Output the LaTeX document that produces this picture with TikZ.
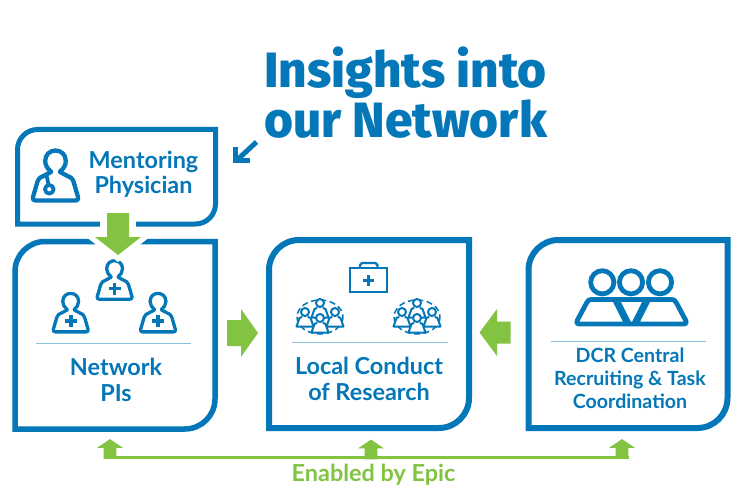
\documentclass[tikz,border=0pt]{standalone}
\usepackage{fontspec}
\setmainfont{Lato}
\newfontfamily\titlefont{Fira Sans ExtraBold}
\usetikzlibrary{calc}
\definecolor{brandblue}{HTML}{0477B8}
\definecolor{brandgreen}{HTML}{82C341}
\definecolor{rulecolor}{HTML}{8CBFDF}
\tikzset{
  x=1pt,y=-1pt,
  frame/.style={draw=brandblue,line width=#1,fill=white,line join=miter},
  frame/.default=6pt,
  icon/.style={draw=brandblue,line join=round,line cap=round},
  sep/.style={draw=rulecolor,line width=1pt},
  label/.style={text=brandblue,font=\bfseries\fontsize{23.4}{25.5}\selectfont,align=center,inner sep=0pt},
  bus/.style={draw=brandgreen,line width=3pt},
  headline/.style={text=brandblue,font=\titlefont\fontsize{49.6}{51}\selectfont,anchor=base west,inner sep=0pt},
}
% frame with two rounded corners (top left and bottom right)
\newcommand{\leafframe}[7]{%
  \coordinate (#1-nw) at (#2,#3);
  \coordinate (#1-se) at (#4,#5);
  \draw[frame=#7] ($(#1-nw)+(0,#6)$) .. controls ($(#1-nw)+(0,#6*0.45)$) and ($(#1-nw)+(#6*0.45,0)$) .. ($(#1-nw)+(#6,0)$)
     -- (#1-se |- #1-nw) -- ($(#1-se)-(0,#6)$)
     .. controls ($(#1-se)-(0,#6*0.45)$) and ($(#1-se)-(#6*0.45,0)$) .. ($(#1-se)-(#6,0)$)
     -- (#1-nw |- #1-se) -- cycle;
}
% person: balloon head and open trapezoid torso; args x, y, scale, stroke
\newcommand{\personoutline}[4]{%
  \begin{scope}[shift={(#1,#2)},scale=#3]
    \draw[icon,line width=#4] (-4.5,-1.5) .. controls (-8,-4) and (-10.3,-8) .. (-10.3,-12)
       .. controls (-10.3,-18.5) and (-5.5,-22.5) .. (0,-22.5)
       .. controls (5.5,-22.5) and (10.3,-18.5) .. (10.3,-12)
       .. controls (10.3,-8) and (8,-4) .. (4.5,-1.5);
    \draw[icon,line width=#4] (-4.5,-1) -- (-12,3) .. controls (-15,4) and (-16.5,5) .. (-18,8.5) -- (-22.5,24)
       .. controls (-23.3,26.5) and (-22,27.5) .. (-20,27.5)
       -- (20,27.5) .. controls (22,27.5) and (23.3,26.5) .. (22.5,24) -- (18,8.5)
       .. controls (16.5,5) and (15,4) .. (12,3) -- (4.5,-1);
  \end{scope}
}
% medical person: outline with a plus on the chest
\newcommand{\medic}[2]{%
  \personoutline{#1}{#2}{0.77}{3.3pt}
  \fill[brandblue] ($(#1,#2)+(-1.8,4.5)$) rectangle ++(3.6,12);
  \fill[brandblue] ($(#1,#2)+(-6,8.7)$) rectangle ++(12,3.6);
}
% small person used in the research cluster
\newcommand{\tinyperson}[2]{%
  \begin{scope}[shift={(#1,#2)}]
    \draw[icon,line width=2pt,fill=white] (-3.2,-2) -- (-5.5,-1) -- (-8.5,7.5) -- (8.5,7.5) -- (5.5,-1) -- (3.2,-2);
    \draw[icon,line width=2pt,fill=white] (0,-7) circle[radius=4];
  \end{scope}
}
\newcommand{\cluster}[2]{%
  \begin{scope}[shift={(#1,#2)}]
    \draw[draw=brandblue,line width=1.5pt,dash pattern=on 6pt off 3.5pt] (0,1) ellipse[x radius=23,y radius=17];
    \tinyperson{0}{-6}
    \tinyperson{-15}{3}
    \tinyperson{15}{3}
    \tinyperson{0}{9}
  \end{scope}
}
% green block arrow placed at a named point: args name, x, y, rotation, length, head length, shaft width, head width
\newcommand{\blockarrow}[8]{%
  \coordinate (#1) at (#2,#3);
  \fill[brandgreen,rotate around={#4:(#1)}] ($(#1)+(-#5/2,-#7/2)$) -- ($(#1)+(#5/2-#6,-#7/2)$) -- ($(#1)+(#5/2-#6,-#8/2)$)
     -- ($(#1)+(#5/2,0)$) -- ($(#1)+(#5/2-#6,#8/2)$) -- ($(#1)+(#5/2-#6,#7/2)$) -- ($(#1)+(-#5/2,#7/2)$) -- cycle;
}

\begin{document}
\begin{tikzpicture}
\useasboundingbox (0,0) rectangle (742,492);
\fill[white] (0,0) rectangle (742,492);

% title
\node[headline] (titleone) at (264,88) {Insights into};
\node[headline] (titletwo) at (264,138) {our Network};
\coordinate (pointerstart) at (256.5,142);
\coordinate (pointerend) at (236,161);
\draw[draw=brandblue,line width=5pt] (pointerstart) -- (pointerend);
\draw[draw=brandblue,line width=5pt,line join=miter] (235.5,147) -- (235.5,160.5) -- (250,160.5);

% panels
\leafframe{mentor}{17.5}{129.5}{215.5}{224}{20}{5pt}
\leafframe{pis}{15}{241.5}{215}{429}{30}{5.5pt}
\leafframe{local}{269}{240}{469}{428}{30}{6pt}
\leafframe{dcr}{528.5}{240}{727.5}{428}{30}{6pt}

% mentoring physician
\personoutline{55.5}{173}{1}{4.3pt}
\draw[icon,line width=3.8pt] (49.3,189.3) circle[radius=4.3];
\draw[icon,line width=3.8pt] (47,177) -- (48.3,184);
\node[label] (mentorlabel) at (143.5,174.5) {Mentoring\\Physician};

% network PIs
\medic{114.6}{278}
\medic{70.7}{310.7}
\medic{158}{310.7}
\draw[sep] (36,343.5) -- (191,343.5);
\node[label] (pislabel) at (116,380) {Network\\PIs};

% local conduct of research
\draw[icon,line width=2.2pt,line cap=butt,line join=miter] (350,268) rectangle (387,292);
\draw[icon,line width=2.2pt] (360,268) -- (360,265) -- (362,263) -- (375.5,263) -- (377.5,265) -- (377.5,268);
\fill[brandblue] (366.6,275) rectangle ++(3.4,11.4);
\fill[brandblue] (362.6,279) rectangle ++(11.4,3.4);
\cluster{320}{316}
\cluster{417}{316}
\draw[sep] (292,342.5) -- (448,342.5);
\node[label] (locallabel) at (369,379) {Local Conduct\\of Research};

% DCR central: three overlapping figures
\begin{scope}[icon,line width=4.8pt]
  \draw (602.3,282.3) circle[radius=11.6];
  \draw (631,282.3) circle[radius=11.6];
  \draw (660,282.3) circle[radius=11.6];
  \draw (592,299.5) -- (670,299.5);
  \draw (592,299.5) .. controls (589,299.5) and (588,300) .. (586.5,303) -- (577.5,320)
     .. controls (576,323) and (577,324) .. (580,324) -- (683,324)
     .. controls (686,324) and (687,323) .. (685.5,320) -- (676.5,303)
     .. controls (675,300) and (674,299.5) .. (670,299.5);
\end{scope}
\draw[icon,line width=7pt,line cap=butt,line join=miter] (616,300) -- (628,324);
\draw[icon,line width=7pt,line cap=butt,line join=miter] (647,300) -- (635,324);
\draw[sep] (551,341) -- (706,341);
\node[label,font=\bfseries\fontsize{19.6}{23}\selectfont] (dcrlabel) at (630,378.5) {DCR Central\\Recruiting \& Task\\Coordination};

% down arrow with a white halo cutting the two frames
\fill[white] (100,207) rectangle (136,236);
\fill[white] (85,236) -- (151,236) -- (118,262) -- cycle;
\blockarrow{down}{118}{234}{-90}{42}{18}{22}{46}
% arrows between the panels
\blockarrow{rightarrow}{242.5}{333}{0}{31}{17}{26}{48}
\blockarrow{leftarrow}{495}{332.5}{180}{31}{17.5}{22}{47}

% enabling bus along the bottom
\coordinate (busleft) at (103.5,457.5);
\coordinate (busright) at (628.5,457.5);
\draw[bus] (busleft) -- (busright);
\blockarrow{tipleft}{110}{449}{90}{19.7}{8.7}{12.7}{26}
\blockarrow{tipmid}{371}{449.5}{90}{19.7}{8.7}{12.7}{26}
\blockarrow{tipright}{622}{449}{90}{19.7}{8.7}{12.7}{26}
\node[text=brandgreen,font=\bfseries\fontsize{23.4}{25}\selectfont,inner sep=0pt] (epic) at (373.5,475) {Enabled by Epic};
\end{tikzpicture}
\end{document}
